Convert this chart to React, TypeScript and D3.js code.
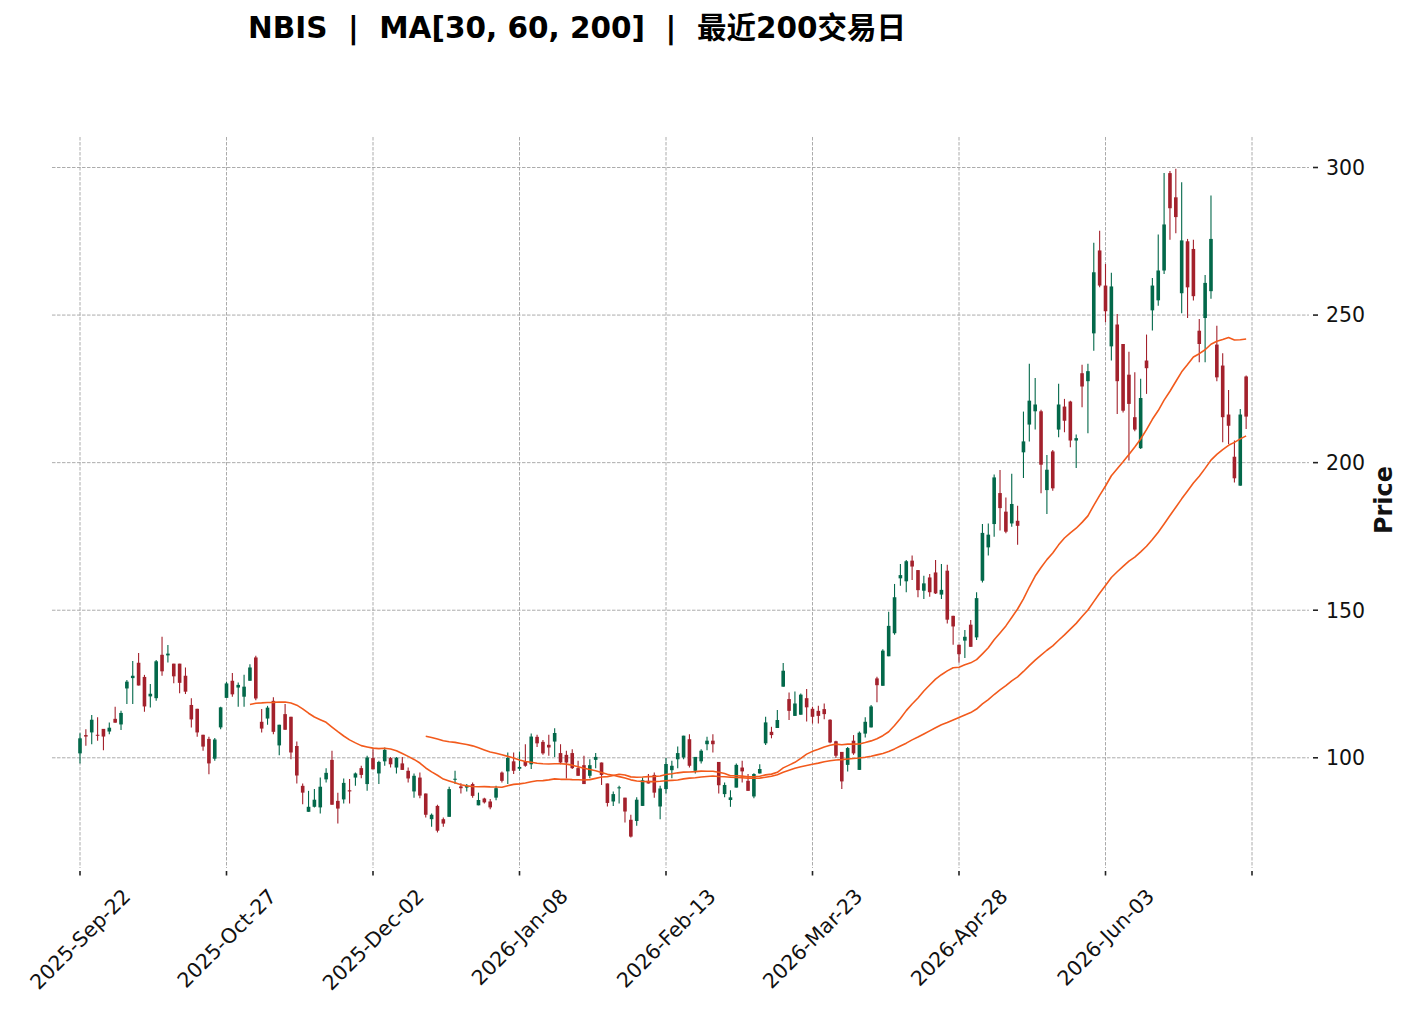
import React, { useEffect, useRef } from 'react'

import * as d3 from 'd3'

// daily bars (index 0 = 2025-Sep-22)
const opens = [
  101.5, 107.7, 108.6, 107.8, 109.8, 108.9, 113.2, 111.3, 123.5, 127.0,
  132.2, 127.4, 120.8, 120.2, 134.9, 134.7, 131.9, 131.9, 127.8, 117.9,
  116.6, 107.8, 106.4, 99.7, 110.3, 120.3, 126.1, 123.8, 120.7, 126.1,
  134.0, 112.2, 113.3, 119.3, 104.2, 114.8, 113.9, 104.0, 90.5, 81.7,
  83.4, 83.2, 92.7, 99.3, 85.4, 85.9, 89.0, 93.3, 96.5, 91.1,
  99.9, 94.7, 98.8, 99.9, 96.7, 98.1, 95.6, 88.6, 93.3, 87.9,
  79.2, 83.7, 79.2, 80.0, 92.7, 90.3, 89.9, 91.1, 83.9, 86.2,
  85.2, 86.5, 95.0, 95.4, 98.8, 96.3, 98.8, 97.8, 107.1, 105.4,
  104.4, 105.5, 101.6, 101.0, 101.6, 96.5, 97.5, 93.9, 99.3, 98.4,
  91.3, 85.2, 89.8, 86.5, 79.0, 78.6, 83.7, 92.2, 94.2, 83.5,
  89.4, 95.8, 99.5, 100.1, 106.3, 95.6, 98.8, 104.6, 105.8, 98.6,
  87.7, 85.7, 89.9, 96.7, 92.2, 86.9, 94.7, 104.9, 108.8, 110.1,
  124.1, 119.9, 114.2, 114.6, 120.2, 116.6, 115.9, 116.5, 112.9, 105.6,
  102.0, 97.6, 105.8, 95.9, 108.2, 110.3, 126.9, 124.4, 134.4, 142.2,
  160.8, 159.8, 166.8, 163.6, 156.6, 161.1, 162.8, 155.3, 163.4, 148.1,
  138.3, 139.7, 145.1, 140.8, 160.0, 171.3, 179.2, 189.7, 183.4, 179.4,
  180.3, 203.5, 212.9, 217.4, 217.4, 190.7, 203.8, 211.2, 219.0, 220.7,
  207.5, 230.3, 227.6, 243.8, 271.9, 260.0, 239.4, 246.8, 240.2, 229.8,
  215.4, 204.9, 234.6, 251.6, 255.0, 265.1, 298.1, 289.9, 257.4, 275.0,
  272.4, 244.7, 249.0, 258.1, 240.0, 232.9, 216.3, 202.0, 192.2, 229.2,
]
const highs = [
  108.3, 109.7, 114.5, 113.7, 109.8, 112.0, 117.3, 115.9, 126.4, 132.8,
  135.5, 128.1, 125.0, 133.1, 141.0, 138.2, 131.9, 131.9, 130.6, 120.2,
  116.6, 107.8, 107.1, 106.7, 117.3, 125.8, 128.7, 125.5, 128.1, 131.7,
  134.6, 116.5, 117.6, 120.5, 111.2, 118.2, 113.9, 105.5, 91.3, 88.8,
  89.4, 93.3, 96.5, 102.4, 88.2, 93.0, 92.8, 95.0, 97.3, 100.7,
  102.9, 99.0, 103.5, 100.3, 100.3, 100.3, 96.7, 94.7, 95.0, 87.9,
  81.1, 84.1, 79.8, 90.2, 95.6, 91.4, 91.1, 91.6, 88.2, 86.5,
  86.0, 90.5, 95.4, 101.8, 101.8, 102.1, 104.6, 108.2, 107.8, 106.0,
  107.8, 110.0, 104.6, 102.4, 102.9, 99.0, 100.7, 99.5, 101.6, 98.4,
  91.3, 88.6, 90.5, 86.5, 80.7, 86.6, 93.3, 94.5, 95.0, 90.5,
  99.9, 99.0, 103.8, 107.5, 108.0, 100.3, 102.9, 107.1, 108.0, 98.6,
  91.6, 89.0, 98.1, 99.0, 94.5, 94.8, 97.8, 113.9, 110.5, 116.2,
  132.1, 122.1, 122.5, 121.8, 123.3, 117.3, 117.6, 118.4, 113.1, 105.8,
  102.0, 103.7, 107.7, 108.9, 113.7, 117.9, 127.5, 136.8, 149.5, 158.9,
  165.7, 167.0, 168.5, 163.6, 161.7, 162.3, 167.0, 165.7, 165.4, 148.1,
  138.3, 143.3, 146.7, 156.1, 179.2, 179.4, 196.0, 197.5, 188.2, 196.2,
  185.4, 217.3, 233.5, 228.7, 217.9, 202.6, 204.3, 226.7, 221.6, 221.0,
  209.5, 233.2, 233.5, 274.5, 278.6, 267.3, 264.3, 250.4, 240.2, 237.6,
  230.6, 228.4, 243.4, 262.6, 277.3, 298.1, 298.8, 299.6, 295.0, 275.8,
  275.5, 248.7, 263.6, 290.5, 246.4, 237.1, 224.6, 207.5, 218.2, 229.5,
]
const lows = [
  98.1, 104.1, 104.6, 105.8, 102.6, 108.0, 111.9, 109.4, 118.2, 118.2,
  124.5, 115.6, 117.0, 119.3, 127.8, 132.3, 125.3, 121.9, 121.6, 110.3,
  107.1, 102.4, 94.4, 99.0, 109.7, 120.3, 120.7, 117.3, 117.3, 126.1,
  119.5, 108.6, 111.2, 108.0, 100.9, 109.5, 99.5, 91.3, 84.3, 81.7,
  83.2, 81.1, 91.6, 84.1, 77.7, 84.5, 84.5, 90.5, 93.1, 88.8,
  96.1, 91.1, 97.3, 96.7, 94.7, 95.9, 91.6, 86.5, 86.3, 79.8,
  76.6, 74.7, 76.6, 80.0, 91.1, 87.9, 88.6, 86.5, 83.9, 84.5,
  82.6, 85.6, 91.6, 91.1, 94.5, 95.6, 97.0, 96.2, 103.7, 101.0,
  100.7, 100.3, 97.8, 93.0, 96.2, 93.9, 91.1, 93.1, 96.5, 90.8,
  83.5, 83.7, 84.5, 78.1, 73.0, 77.0, 83.7, 91.3, 86.5, 79.2,
  87.9, 93.1, 96.5, 99.5, 96.7, 94.7, 98.1, 102.6, 101.8, 87.9,
  86.6, 83.4, 89.9, 91.6, 88.8, 86.3, 94.7, 104.3, 106.6, 110.1,
  124.1, 112.8, 114.2, 114.6, 112.3, 111.6, 111.6, 113.1, 104.9, 99.9,
  89.4, 95.4, 101.0, 95.9, 106.9, 110.3, 118.8, 124.4, 134.4, 141.7,
  158.3, 156.1, 160.2, 154.4, 153.8, 154.6, 155.5, 153.8, 145.5, 138.3,
  132.3, 133.8, 137.6, 139.9, 159.4, 168.5, 174.9, 177.0, 176.1, 178.3,
  172.2, 194.8, 207.2, 211.2, 189.6, 182.6, 190.5, 208.6, 210.3, 205.2,
  198.2, 218.8, 210.0, 237.9, 259.4, 247.6, 234.6, 216.5, 217.0, 200.7,
  210.6, 204.6, 223.3, 244.8, 253.2, 263.9, 275.5, 277.7, 250.6, 249.0,
  254.9, 234.0, 234.0, 255.5, 227.6, 206.9, 206.3, 193.3, 192.2, 211.4,
]
const closes = [
  106.6, 107.2, 112.9, 107.6, 107.2, 110.2, 111.9, 115.2, 125.8, 127.8,
  124.5, 117.4, 121.7, 132.7, 129.3, 135.3, 127.6, 125.4, 122.4, 113.0,
  108.6, 103.8, 98.1, 106.2, 117.1, 125.2, 121.5, 124.7, 124.1, 130.6,
  120.1, 109.9, 117.0, 108.8, 111.2, 109.5, 101.8, 94.0, 88.2, 83.4,
  85.8, 90.2, 94.9, 84.1, 82.8, 91.5, 88.6, 94.7, 94.2, 100.1,
  96.1, 98.6, 102.7, 97.8, 100.0, 95.9, 93.0, 93.9, 87.2, 80.7,
  80.7, 75.3, 77.7, 89.4, 92.9, 89.7, 90.5, 87.1, 85.7, 84.9,
  83.2, 89.7, 92.2, 100.0, 95.6, 96.9, 97.3, 107.2, 104.9, 101.5,
  103.5, 108.4, 98.4, 98.4, 96.5, 93.9, 91.1, 97.5, 100.3, 94.2,
  84.7, 87.7, 90.0, 81.8, 73.3, 85.8, 92.4, 91.3, 88.2, 89.6,
  97.9, 97.3, 101.6, 107.5, 97.3, 100.3, 102.4, 105.8, 104.6, 90.7,
  90.8, 86.6, 97.6, 95.4, 88.8, 94.5, 96.2, 112.0, 107.7, 112.8,
  129.5, 115.9, 118.4, 121.4, 117.1, 113.9, 114.2, 114.8, 105.2, 100.7,
  92.0, 103.3, 101.5, 108.5, 112.2, 117.4, 124.6, 136.3, 144.7, 154.4,
  161.9, 166.6, 164.8, 156.8, 159.1, 156.1, 155.7, 156.9, 146.8, 144.5,
  135.1, 141.0, 137.6, 154.1, 176.2, 175.6, 195.0, 184.6, 176.6, 186.0,
  178.6, 207.2, 221.0, 219.7, 199.3, 197.6, 191.3, 219.7, 214.2, 207.5,
  208.3, 225.8, 231.0, 264.5, 260.0, 251.3, 259.7, 227.6, 217.6, 219.9,
  211.2, 221.9, 232.0, 260.0, 265.1, 280.7, 286.2, 283.2, 275.3, 259.4,
  256.4, 240.2, 260.9, 275.8, 228.9, 215.4, 212.5, 194.7, 216.3, 215.6,
]

const maWindows = [30, 60, 200]
const priceTicks = [100, 150, 200, 250, 300]
const dateTickIndex = [0, 25, 50, 75, 100, 125, 150, 175, 200]
const dateTickLabels = [
  '2025-Sep-22',
  '2025-Oct-27',
  '2025-Dec-02',
  '2026-Jan-08',
  '2026-Feb-13',
  '2026-Mar-23',
  '2026-Apr-28',
  '2026-Jun-03',
  '',
]

const title = 'NBIS  |  MA[30, 60, 200]  |  最近200交易日'

const W = 1412
const H = 1009
const plot = { left: 52, right: 1311, top: 137, bottom: 871 }
const upColor = '#03684a'
const downColor = '#a3212c'
const maColor = '#f25a1c'
const gridColor = '#a3a3a3'
const font = "'DejaVu Sans', 'Noto Sans CJK SC', sans-serif"

const App = () => {
  const svgRef = useRef<SVGSVGElement>(null)

  useEffect(() => {
    document.body.style.margin = '0'
    if (!svgRef.current) return

    const svg = d3.select(svgRef.current)
    svg.selectAll('*').remove()

    const x = d3.scaleLinear().domain([0, 200]).range([80, 1252])
    const y = d3.scaleLinear().domain([100, 300]).range([757.8, 167.5])
    const bodyW = 3.6

    // grid
    const grid = svg.append('g')
    grid
      .selectAll('line.h')
      .data(priceTicks)
      .join('line')
      .attr('x1', plot.left)
      .attr('x2', plot.right - 2)
      .attr('y1', (d) => y(d))
      .attr('y2', (d) => y(d))
    grid
      .selectAll('line.v')
      .data(dateTickIndex)
      .join('line')
      .attr('x1', (d) => x(d))
      .attr('x2', (d) => x(d))
      .attr('y1', plot.top)
      .attr('y2', plot.bottom - 3)
    grid
      .selectAll('line')
      .attr('stroke', gridColor)
      .attr('stroke-width', 0.9)
      .attr('stroke-dasharray', '3.5,1.5')

    // candles
    const I = d3.range(closes.length)
    const candles = svg.append('g')
    candles
      .selectAll('line')
      .data(I)
      .join('line')
      .attr('x1', (i) => x(i))
      .attr('x2', (i) => x(i))
      .attr('y1', (i) => y(highs[i]))
      .attr('y2', (i) => y(lows[i]))
      .attr('stroke', (i) => (closes[i] >= opens[i] ? upColor : downColor))
      .attr('stroke-width', 1.1)
    candles
      .selectAll('rect')
      .data(I)
      .join('rect')
      .attr('x', (i) => x(i) - bodyW / 2)
      .attr('width', bodyW)
      .attr('y', (i) => y(Math.max(opens[i], closes[i])))
      .attr('height', (i) =>
        Math.max(1, Math.abs(y(opens[i]) - y(closes[i]))),
      )
      .attr('fill', (i) => (closes[i] >= opens[i] ? upColor : downColor))

    // moving averages (MA200 has no points with 200 bars short of a full window)
    maWindows.forEach((n) => {
      if (closes.length < n) return
      const ma = d3
        .line<number>()
        .x((i) => x(i))
        .y((i) => y(d3.mean(closes.slice(i - n + 1, i + 1)) as number))
      svg
        .append('path')
        .attr('fill', 'none')
        .attr('stroke', maColor)
        .attr('stroke-width', 1.6)
        .attr('stroke-linejoin', 'round')
        .attr('d', ma(d3.range(n - 1, closes.length)))
    })

    // y axis (right)
    const yAxis = svg.append('g')
    priceTicks.forEach((t) => {
      yAxis
        .append('line')
        .attr('x1', plot.right + 2)
        .attr('x2', plot.right + 7)
        .attr('y1', y(t))
        .attr('y2', y(t))
        .attr('stroke', '#222')
        .attr('stroke-width', 1.6)
      yAxis
        .append('text')
        .attr('x', plot.right + 15)
        .attr('y', y(t))
        .attr('dy', '0.36em')
        .attr('font-family', font)
        .attr('font-size', 20.5)
        .attr('fill', '#111')
        .text(t)
    })
    svg
      .append('text')
      .attr('transform', `translate(1392,500) rotate(-90)`)
      .attr('text-anchor', 'middle')
      .attr('font-family', font)
      .attr('font-weight', 'bold')
      .attr('font-size', 24)
      .attr('fill', '#111')
      .text('Price')

    // x axis (bottom), labels rotated 45 and centred on the tick
    const xAxis = svg.append('g')
    dateTickIndex.forEach((d, k) => {
      xAxis
        .append('line')
        .attr('x1', x(d))
        .attr('x2', x(d))
        .attr('y1', plot.bottom)
        .attr('y2', plot.bottom + 4.5)
        .attr('stroke', '#222')
        .attr('stroke-width', 1.6)
      const label = dateTickLabels[k]
      if (!label) return
      const t = xAxis
        .append('text')
        .attr('text-anchor', 'middle')
        .attr('dy', '0.36em')
        .attr('font-family', font)
        .attr('font-size', 20.5)
        .attr('fill', '#111')
        .text(label)
      const len = (t.node() as SVGTextElement).getComputedTextLength()
      const half = ((len + 21) * Math.SQRT1_2) / 2
      t.attr('transform', `translate(${x(d)},${885 + half}) rotate(-45)`)
    })

    // title
    svg
      .append('text')
      .attr('x', 248)
      .attr('y', 38)
      .attr('font-family', font)
      .attr('font-weight', 'bold')
      .attr('font-size', 29.5)
      .attr('fill', '#000')
      .style('white-space', 'pre')
      .text(title)

    return () => {
      svg.selectAll('*').remove()
    }
  }, [])

  return (
    <svg
      ref={svgRef}
      width={W}
      height={H}
      viewBox={`0 0 ${W} ${H}`}
      style={{ display: 'block', background: '#fff' }}
    />
  )
}

export default App
